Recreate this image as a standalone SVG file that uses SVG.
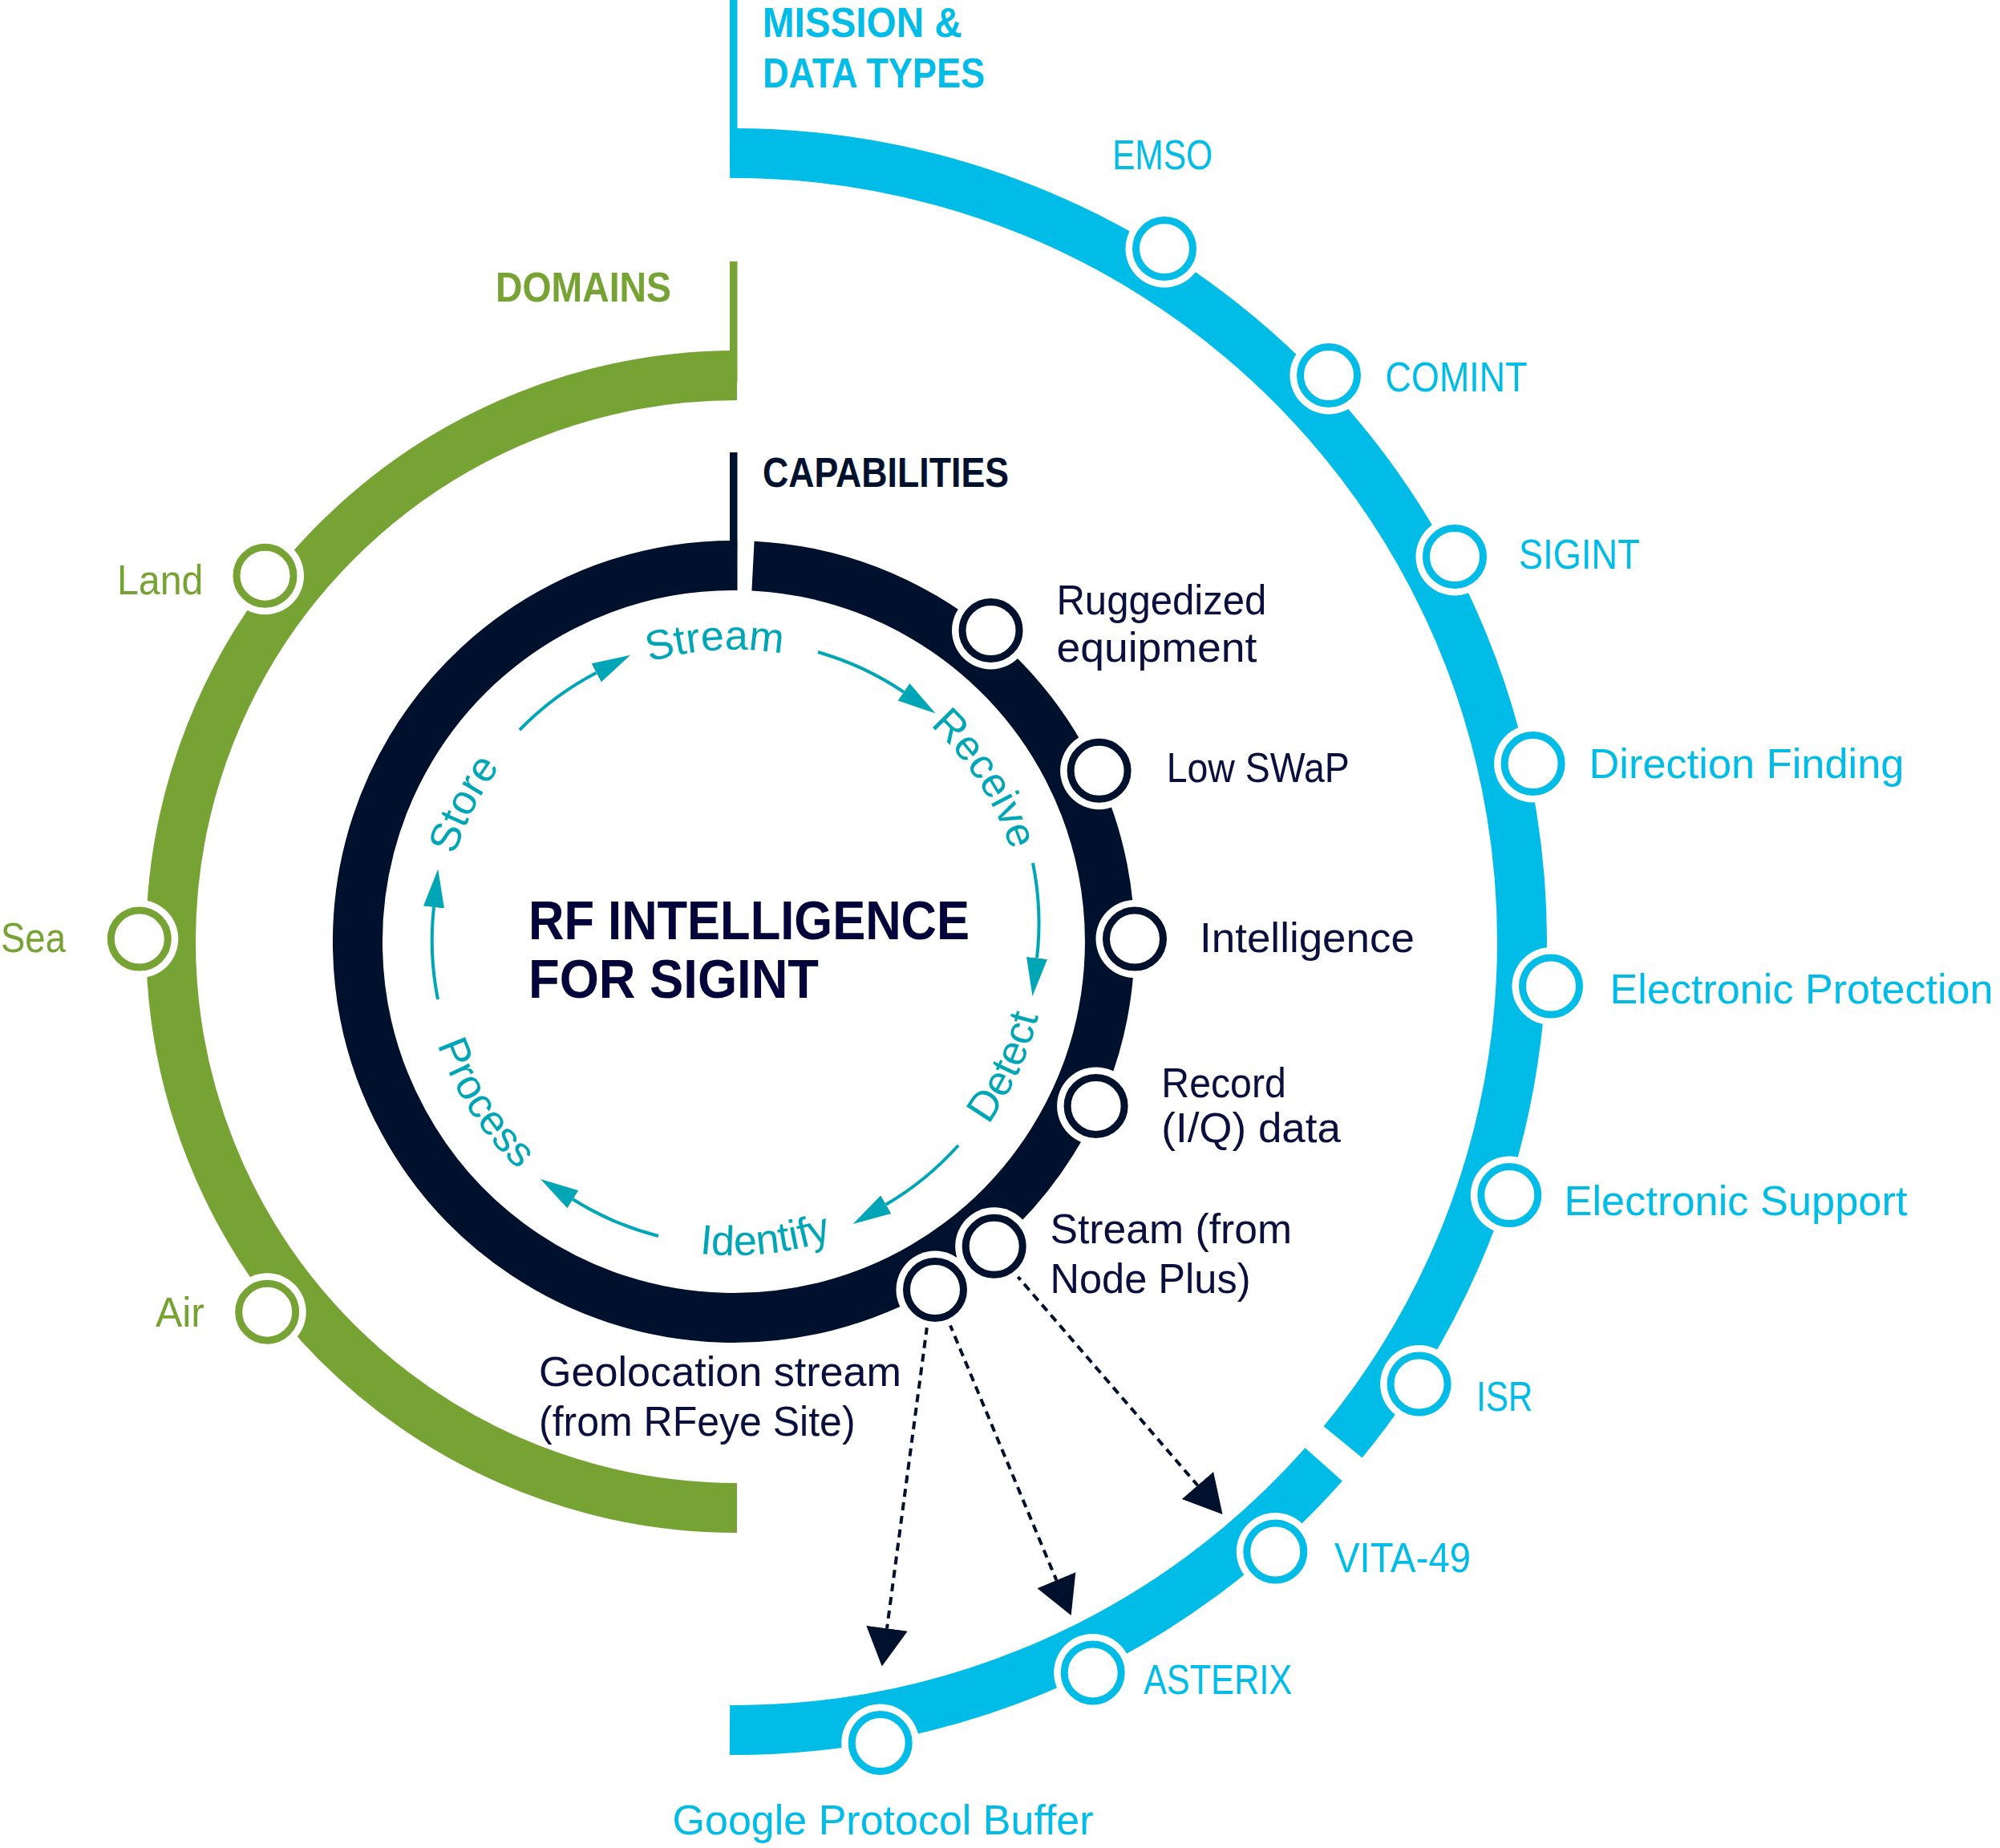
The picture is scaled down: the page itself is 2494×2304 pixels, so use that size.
<svg xmlns="http://www.w3.org/2000/svg" width="2494" height="2304" viewBox="0 0 2494 2304">
<style>
.lbl{font-family:"Liberation Sans",Arial,sans-serif;font-size:52px}
.ttl{font-family:"Liberation Sans",Arial,sans-serif;font-size:51px;font-weight:bold}
.blue{fill:#00bce6}.green{fill:#76a334}.dark{fill:#0a0f3d}.teal{fill:#00a6b6}
.halo{fill:#fff}
.mb{fill:#fff;stroke:#00bce6;stroke-width:9}
.mg{fill:#fff;stroke:#76a334;stroke-width:9}
.md{fill:#fff;stroke:#00112e;stroke-width:9}
.cyc{fill:none;stroke:#00a6b6;stroke-width:4}
.dash{fill:none;stroke:#00112e;stroke-width:4;stroke-dasharray:10 7}
</style>
<defs>
<marker id="ta" markerUnits="userSpaceOnUse" markerWidth="50" markerHeight="30" viewBox="0 -13 46 26" refX="0" refY="0" orient="auto"><path d="M0,-12 L44,0 L0,12 Z" fill="#00a6b6"/></marker>
<marker id="da" markerUnits="userSpaceOnUse" markerWidth="50" markerHeight="54" viewBox="0 -25 46 50" refX="0" refY="0" orient="auto"><path d="M0,-24 L44,0 L0,24 Z" fill="#00112e"/></marker>
<path id="pStore" d="M648.8,1422.2 A364,364 0 0 1 959.4,812.7"/>
<path id="pStream" d="M565.8,1071.2 A364,364 0 0 1 1248.6,1028.3"/>
<path id="pReceive" d="M833.1,819.3 A364,364 0 0 1 1205.7,1393.1"/>
<path id="pDetect" d="M883,1563.7 A391,391 0 0 0 1190,896.1"/>
<path id="pIdentify" d="M563.6,1345.4 A391,391 0 0 0 1294.4,1268.6"/>
<path id="pProcess" d="M603.1,938.1 A391,391 0 0 0 1002.3,1555.1"/>
</defs>
<rect width="2494" height="2304" fill="#fff"/>

<g id="rings">
<path d="M910,191 A983,983 0 0 1 1674.6,1797.9" fill="none" stroke="#00bce6" stroke-width="62"/>
<path d="M1650.7,1825.9 A983,983 0 0 1 910,2157" fill="none" stroke="#00bce6" stroke-width="62"/>
<rect x="910" y="0" width="9.5" height="180" fill="#00bce6"/>
<path d="M919,468 A706,706 0 1 0 919,1880" fill="none" stroke="#76a334" stroke-width="62"/>
<rect x="910" y="326" width="9.5" height="150" fill="#76a334"/>
<path d="M939,705.6 A469,469 0 1 1 919,705" fill="none" stroke="#00112e" stroke-width="62"/>
<rect x="910" y="564" width="9.5" height="172" fill="#00112e"/>
</g>

<g id="titles">
<text class="ttl blue" x="951" y="45.5" textLength="249" lengthAdjust="spacingAndGlyphs">MISSION &amp;</text>
<text class="ttl blue" x="951" y="108.5" textLength="277" lengthAdjust="spacingAndGlyphs">DATA TYPES</text>
<text class="ttl green" x="618" y="375.5" textLength="219" lengthAdjust="spacingAndGlyphs">DOMAINS</text>
<text class="ttl" fill="#00112e" x="951" y="607" textLength="307" lengthAdjust="spacingAndGlyphs">CAPABILITIES</text>
</g>

<g id="center-title">
<text font-family="Liberation Sans,Arial,sans-serif" font-weight="bold" font-size="69" fill="#02043a" x="659" y="1170.5" textLength="550" lengthAdjust="spacingAndGlyphs">RF INTELLIGENCE</text>
<text font-family="Liberation Sans,Arial,sans-serif" font-weight="bold" font-size="69" fill="#02043a" x="659" y="1243.7" textLength="362" lengthAdjust="spacingAndGlyphs">FOR SIGINT</text>
</g>

<g id="cycle">
<text class="lbl teal"><textPath href="#pStore" startOffset="50%" text-anchor="middle">Store</textPath></text>
<text class="lbl teal"><textPath href="#pStream" startOffset="50%" text-anchor="middle">Stream</textPath></text>
<text class="lbl teal"><textPath href="#pReceive" startOffset="50%" text-anchor="middle">Receive</textPath></text>
<text class="lbl teal"><textPath href="#pDetect" startOffset="50%" text-anchor="middle">Detect</textPath></text>
<text class="lbl teal"><textPath href="#pIdentify" startOffset="50%" text-anchor="middle">Identify</textPath></text>
<text class="lbl teal"><textPath href="#pProcess" startOffset="50%" text-anchor="middle">Process</textPath></text>
</g>

<g id="connectors">
<path class="cyc" d="M648,910 A378,378 0 0 1 743.7,838.8" marker-end="url(#ta)"/>
<path class="cyc" d="M1020,813 A378,378 0 0 1 1127,862.8" marker-end="url(#ta)"/>
<path class="cyc" d="M1288,1076 A378,378 0 0 1 1293,1194.5" marker-end="url(#ta)"/>
<path class="cyc" d="M1195,1428 A378,378 0 0 1 1104.8,1501.8" marker-end="url(#ta)"/>
<path class="cyc" d="M821,1541 A378,378 0 0 1 714.4,1495.3" marker-end="url(#ta)"/>
<path class="cyc" d="M546,1246 A378,378 0 0 1 541,1131" marker-end="url(#ta)"/>
<path class="dash" d="M1266,1588 L1493.5,1852" marker-end="url(#da)"/>
<path class="dash" d="M1184,1650 L1317.4,1970.2" marker-end="url(#da)"/>
<path class="dash" d="M1156,1654 L1106,2030.3" marker-end="url(#da)"/>
</g>

<g id="mission-nodes">
<g id="n-emso"><circle class="halo" cx="1452" cy="310" r="48.5"/><circle class="mb" cx="1452" cy="310" r="35.5"/><text class="lbl blue" x="1387" y="211" textLength="125" lengthAdjust="spacingAndGlyphs">EMSO</text></g>
<g id="n-comint"><circle class="halo" cx="1657" cy="468" r="48.5"/><circle class="mb" cx="1657" cy="468" r="35.5"/><text class="lbl blue" x="1727.6" y="487.7" textLength="177" lengthAdjust="spacingAndGlyphs">COMINT</text></g>
<g id="n-sigint"><circle class="halo" cx="1814" cy="694" r="48.5"/><circle class="mb" cx="1814" cy="694" r="35.5"/><text class="lbl blue" x="1894" y="709" textLength="151" lengthAdjust="spacingAndGlyphs">SIGINT</text></g>
<g id="n-df"><circle class="halo" cx="1911.6" cy="952" r="48.5"/><circle class="mb" cx="1911.6" cy="952" r="35.5"/><text class="lbl blue" x="1981.5" y="969.6" textLength="393" lengthAdjust="spacingAndGlyphs">Direction Finding</text></g>
<g id="n-ep"><circle class="halo" cx="1934" cy="1229.5" r="48.5"/><circle class="mb" cx="1934" cy="1229.5" r="35.5"/><text class="lbl blue" x="2007.6" y="1250.8" textLength="478" lengthAdjust="spacingAndGlyphs">Electronic Protection</text></g>
<g id="n-es"><circle class="halo" cx="1882.3" cy="1490" r="48.5"/><circle class="mb" cx="1882.3" cy="1490" r="35.5"/><text class="lbl blue" x="1950.5" y="1515" textLength="428" lengthAdjust="spacingAndGlyphs">Electronic Support</text></g>
<g id="n-isr"><circle class="halo" cx="1769.6" cy="1725.5" r="48.5"/><circle class="mb" cx="1769.6" cy="1725.5" r="35.5"/><text class="lbl blue" x="1841" y="1758.6" textLength="70" lengthAdjust="spacingAndGlyphs">ISR</text></g>
<g id="n-vita"><circle class="halo" cx="1590.3" cy="1934.5" r="48.5"/><circle class="mb" cx="1590.3" cy="1934.5" r="35.5"/><text class="lbl blue" x="1664" y="1959.5" textLength="170" lengthAdjust="spacingAndGlyphs">VITA-49</text></g>
<g id="n-asterix"><circle class="halo" cx="1362.7" cy="2085.4" r="48.5"/><circle class="mb" cx="1362.7" cy="2085.4" r="35.5"/><text class="lbl blue" x="1426" y="2111.9" textLength="185" lengthAdjust="spacingAndGlyphs">ASTERIX</text></g>
<g id="n-gpb"><circle class="halo" cx="1097.7" cy="2173" r="48.5"/><circle class="mb" cx="1097.7" cy="2173" r="35.5"/><text class="lbl blue" x="838.6" y="2287" textLength="525" lengthAdjust="spacingAndGlyphs">Google Protocol Buffer</text></g>
</g>

<g id="domain-nodes">
<g id="n-land"><circle class="halo" cx="330.5" cy="717.7" r="48.5"/><circle class="mg" cx="330.5" cy="717.7" r="35.5"/><text class="lbl green" x="146" y="740.7" textLength="107.5" lengthAdjust="spacingAndGlyphs">Land</text></g>
<g id="n-sea"><circle class="halo" cx="173.8" cy="1170.6" r="48.5"/><circle class="mg" cx="173.8" cy="1170.6" r="35.5"/><text class="lbl green" x="1" y="1186.8" textLength="81" lengthAdjust="spacingAndGlyphs">Sea</text></g>
<g id="n-air"><circle class="halo" cx="333.2" cy="1635.7" r="48.5"/><circle class="mg" cx="333.2" cy="1635.7" r="35.5"/><text class="lbl green" x="194" y="1654" textLength="61" lengthAdjust="spacingAndGlyphs">Air</text></g>
</g>

<g id="capability-nodes">
<circle class="halo" cx="1235.5" cy="786" r="48.5"/>
<circle class="halo" cx="1370.6" cy="960.8" r="48.5"/>
<circle class="halo" cx="1415" cy="1170.6" r="48.5"/>
<circle class="halo" cx="1366.6" cy="1378.9" r="48.5"/>
<circle class="halo" cx="1239.7" cy="1553.8" r="48.5"/>
<circle class="halo" cx="1166" cy="1608" r="48.5"/>
<g id="n-rugged"><circle class="md" cx="1235.5" cy="786" r="35.5"/><text class="lbl dark" x="1317.4" y="766.4" textLength="262" lengthAdjust="spacingAndGlyphs">Ruggedized</text><text class="lbl dark" x="1317.4" y="825" textLength="250" lengthAdjust="spacingAndGlyphs">equipment</text></g>
<g id="n-swap"><circle class="md" cx="1370.6" cy="960.8" r="35.5"/><text class="lbl dark" x="1454.7" y="975.4" textLength="228" lengthAdjust="spacingAndGlyphs">Low SWaP</text></g>
<g id="n-intel"><circle class="md" cx="1415" cy="1170.6" r="35.5"/><text class="lbl dark" x="1496" y="1186.8" textLength="268" lengthAdjust="spacingAndGlyphs">Intelligence</text></g>
<g id="n-record"><circle class="md" cx="1366.6" cy="1378.9" r="35.5"/><text class="lbl dark" x="1448.3" y="1367.8" textLength="155.5" lengthAdjust="spacingAndGlyphs">Record</text><text class="lbl dark" x="1448.3" y="1423.8" textLength="223.7" lengthAdjust="spacingAndGlyphs">(I/Q) data</text></g>
<g id="n-nodeplus"><circle class="md" cx="1239.7" cy="1553.8" r="35.5"/><text class="lbl dark" x="1309.5" y="1549.6" textLength="301.5" lengthAdjust="spacingAndGlyphs">Stream (from</text><text class="lbl dark" x="1309.5" y="1612.2" textLength="250" lengthAdjust="spacingAndGlyphs">Node Plus)</text></g>
<g id="n-geo"><circle class="md" cx="1166" cy="1608" r="35.5"/><text class="lbl dark" x="672" y="1727.7" textLength="452" lengthAdjust="spacingAndGlyphs">Geolocation stream</text><text class="lbl dark" x="672" y="1790.3" textLength="394.6" lengthAdjust="spacingAndGlyphs">(from RFeye Site)</text></g>
</g>
</svg>
